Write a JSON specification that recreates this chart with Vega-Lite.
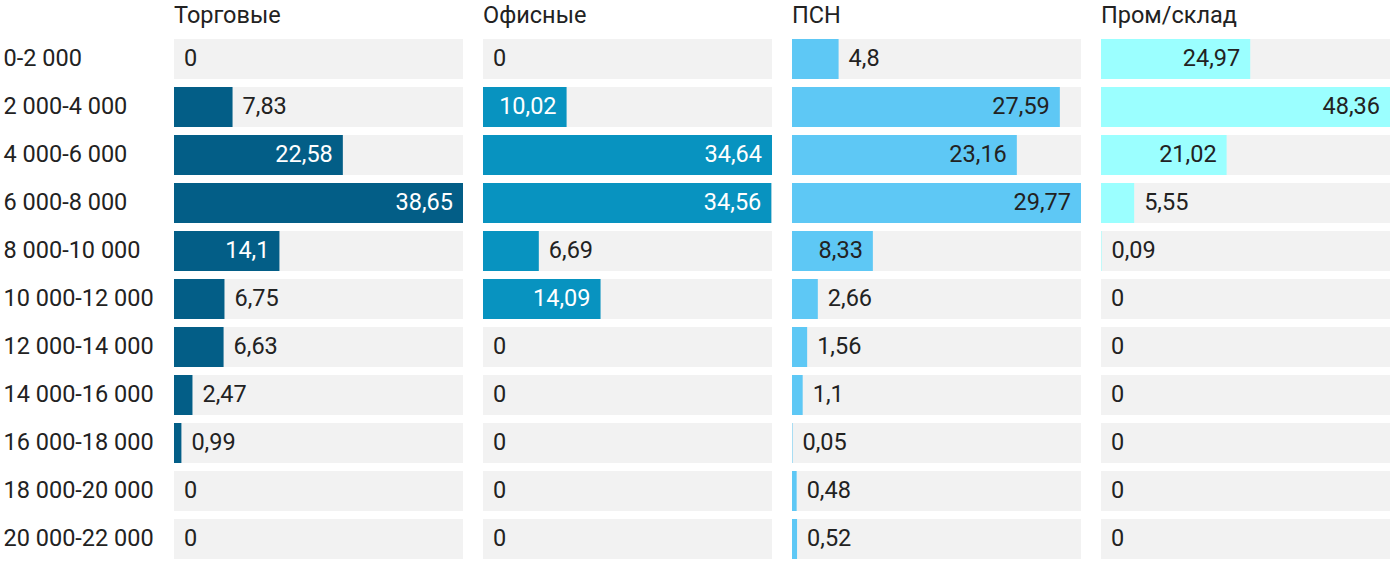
{
  "$schema": "https://vega.github.io/schema/vega-lite/v6.json",
  "padding": {"left": 3, "top": 3, "right": 5, "bottom": 5},
  "background": "white",
  "config": {
    "view": {"stroke": null},
    "font": "Roboto",
    "locale": {"number": {"decimal": ",", "thousands": " ", "grouping": [3], "currency": ["", ""]}}
  },
  "data": {"values": [
    {"cat": "Торговые", "range": "0-2 000", "value": 0},
    {"cat": "Торговые", "range": "2 000-4 000", "value": 7.83},
    {"cat": "Торговые", "range": "4 000-6 000", "value": 22.58},
    {"cat": "Торговые", "range": "6 000-8 000", "value": 38.65},
    {"cat": "Торговые", "range": "8 000-10 000", "value": 14.1},
    {"cat": "Торговые", "range": "10 000-12 000", "value": 6.75},
    {"cat": "Торговые", "range": "12 000-14 000", "value": 6.63},
    {"cat": "Торговые", "range": "14 000-16 000", "value": 2.47},
    {"cat": "Торговые", "range": "16 000-18 000", "value": 0.99},
    {"cat": "Торговые", "range": "18 000-20 000", "value": 0},
    {"cat": "Торговые", "range": "20 000-22 000", "value": 0},
    {"cat": "Офисные", "range": "0-2 000", "value": 0},
    {"cat": "Офисные", "range": "2 000-4 000", "value": 10.02},
    {"cat": "Офисные", "range": "4 000-6 000", "value": 34.64},
    {"cat": "Офисные", "range": "6 000-8 000", "value": 34.56},
    {"cat": "Офисные", "range": "8 000-10 000", "value": 6.69},
    {"cat": "Офисные", "range": "10 000-12 000", "value": 14.09},
    {"cat": "Офисные", "range": "12 000-14 000", "value": 0},
    {"cat": "Офисные", "range": "14 000-16 000", "value": 0},
    {"cat": "Офисные", "range": "16 000-18 000", "value": 0},
    {"cat": "Офисные", "range": "18 000-20 000", "value": 0},
    {"cat": "Офисные", "range": "20 000-22 000", "value": 0},
    {"cat": "ПСН", "range": "0-2 000", "value": 4.8},
    {"cat": "ПСН", "range": "2 000-4 000", "value": 27.59},
    {"cat": "ПСН", "range": "4 000-6 000", "value": 23.16},
    {"cat": "ПСН", "range": "6 000-8 000", "value": 29.77},
    {"cat": "ПСН", "range": "8 000-10 000", "value": 8.33},
    {"cat": "ПСН", "range": "10 000-12 000", "value": 2.66},
    {"cat": "ПСН", "range": "12 000-14 000", "value": 1.56},
    {"cat": "ПСН", "range": "14 000-16 000", "value": 1.1},
    {"cat": "ПСН", "range": "16 000-18 000", "value": 0.05},
    {"cat": "ПСН", "range": "18 000-20 000", "value": 0.48},
    {"cat": "ПСН", "range": "20 000-22 000", "value": 0.52},
    {"cat": "Пром/склад", "range": "0-2 000", "value": 24.97},
    {"cat": "Пром/склад", "range": "2 000-4 000", "value": 48.36},
    {"cat": "Пром/склад", "range": "4 000-6 000", "value": 21.02},
    {"cat": "Пром/склад", "range": "6 000-8 000", "value": 5.55},
    {"cat": "Пром/склад", "range": "8 000-10 000", "value": 0.09},
    {"cat": "Пром/склад", "range": "10 000-12 000", "value": 0},
    {"cat": "Пром/склад", "range": "12 000-14 000", "value": 0},
    {"cat": "Пром/склад", "range": "14 000-16 000", "value": 0},
    {"cat": "Пром/склад", "range": "16 000-18 000", "value": 0},
    {"cat": "Пром/склад", "range": "18 000-20 000", "value": 0},
    {"cat": "Пром/склад", "range": "20 000-22 000", "value": 0}
  ]},
  "transform": [
    {"joinaggregate": [{"op": "max", "field": "value", "as": "maxv"}], "groupby": ["cat"]}
  ],
  "facet": {
    "column": {
      "field": "cat",
      "sort": ["Торговые", "Офисные", "ПСН", "Пром/склад"],
      "header": {
        "title": null,
        "labelAlign": "left",
        "labelAnchor": "start",
        "labelFontSize": 23.5,
        "labelFont": "Roboto",
        "labelColor": "#222222",
        "labelPadding": 8
      }
    }
  },
  "spacing": 20,
  "resolve": {"scale": {"x": "independent"}},
  "spec": {
    "width": 289,
    "height": 528,
    "encoding": {
      "y": {
        "field": "range",
        "type": "nominal",
        "sort": ["0-2 000", "2 000-4 000", "4 000-6 000", "6 000-8 000", "8 000-10 000", "10 000-12 000", "12 000-14 000", "14 000-16 000", "16 000-18 000", "18 000-20 000", "20 000-22 000"],
        "scale": {"paddingInner": 0.1667, "paddingOuter": 0.0833},
        "axis": {
          "title": null,
          "domain": false,
          "ticks": false,
          "labelAlign": "left",
          "labelPadding": 171,
          "labelFontSize": 23.5,
          "labelFont": "Roboto",
          "labelColor": "#222222"
        }
      }
    },
    "layer": [
      {
        "mark": {"type": "bar", "color": "#f2f2f2"},
        "encoding": {
          "x": {"field": "maxv", "type": "quantitative", "axis": null, "scale": {"nice": false}}
        }
      },
      {
        "mark": {"type": "bar"},
        "encoding": {
          "x": {"field": "value", "type": "quantitative"},
          "color": {
            "field": "cat",
            "type": "nominal",
            "scale": {"domain": ["Торговые", "Офисные", "ПСН", "Пром/склад"], "range": ["#035e87", "#0893c0", "#5ec8f5", "#9bffff"]},
            "legend": null
          }
        }
      },
      {
        "transform": [{"filter": "datum.value / datum.maxv >= 0.25"}],
        "mark": {"type": "text", "align": "right", "baseline": "middle", "dx": -10, "fontSize": 23.5, "font": "Roboto"},
        "encoding": {
          "x": {"field": "value", "type": "quantitative"},
          "text": {"field": "value", "type": "quantitative", "format": ".2~f"},
          "color": {
            "condition": {"test": "datum.cat === 'ПСН' || datum.cat === 'Пром/склад'", "value": "#222222"},
            "value": "#ffffff"
          }
        }
      },
      {
        "transform": [{"filter": "datum.value / datum.maxv < 0.25"}],
        "mark": {"type": "text", "align": "left", "baseline": "middle", "dx": 10, "fontSize": 23.5, "font": "Roboto", "color": "#222222"},
        "encoding": {
          "x": {"field": "value", "type": "quantitative"},
          "text": {"field": "value", "type": "quantitative", "format": ".2~f"}
        }
      }
    ]
  }
}
